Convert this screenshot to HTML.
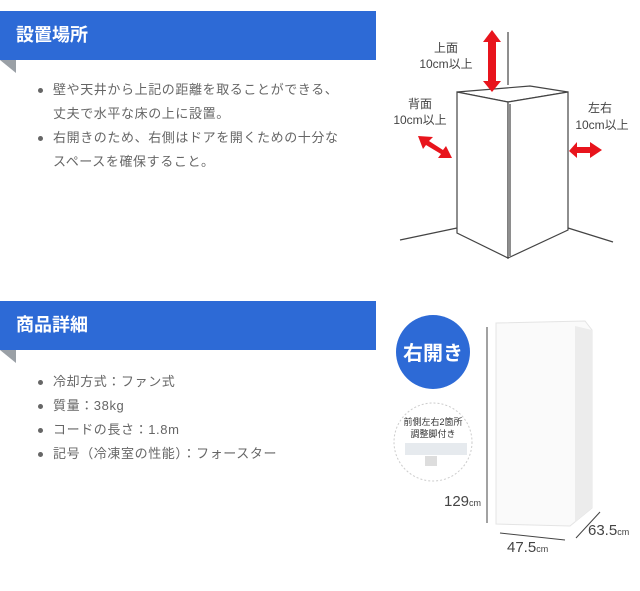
<!DOCTYPE html>
<html><head><meta charset="utf-8"><style>
body{margin:0;width:640px;height:591px;background:#fff;position:relative;overflow:hidden;font-family:"Liberation Sans","Noto Sans CJK JP",sans-serif}
.h{position:absolute;left:0;width:376px;height:49px;background:#2d6ad6;color:#fff;font-weight:bold;font-size:18px;line-height:49px;padding-left:16px;box-sizing:border-box}
.t{position:absolute;left:0;width:0;height:0;border-top:13px solid #9aa0a6;border-left:16px solid transparent}
.l{position:absolute;left:53px;font-size:13px;color:#666;line-height:24px;margin:0;padding:0;list-style:none;letter-spacing:0.6px}
.l li{position:relative;white-space:nowrap}
.l li.b:before{content:"";position:absolute;left:-15px;top:10px;width:5px;height:5px;border-radius:50%;background:#666}
svg{position:absolute}
</style></head><body>
<div class="h" style="top:11px">設置場所</div>
<div class="t" style="top:60px"></div>
<ul class="l" style="top:78px">
<li class="b">壁や天井から上記の距離を取ることができる、</li>
<li>丈夫で水平な床の上に設置。</li>
<li class="b">右開きのため、右側はドアを開くための十分な</li>
<li>スペースを確保すること。</li>
</ul>
<div class="h" style="top:301px">商品詳細</div>
<div class="t" style="top:350px"></div>
<ul class="l" style="top:370px">
<li class="b">冷却方式：ファン式</li>
<li class="b">質量：38kg</li>
<li class="b">コードの長さ：1.8m</li>
<li class="b">記号（冷凍室の性能）：フォースター</li>
</ul>

<svg width="260" height="270" style="left:380px;top:0" font-family="Liberation Sans,Noto Sans CJK JP,sans-serif">
<g stroke="#444" fill="none" stroke-width="1.2">
<line x1="128" y1="32" x2="128" y2="85"/>
<line x1="20" y1="240" x2="77" y2="228"/>
<line x1="188" y1="228" x2="233" y2="242"/>
<path d="M77 92 L150 86 L188 92 L128 102 Z" fill="#fff"/>
<path d="M77 92 L77 233 L128 258 L128 102 Z" fill="#fff"/>
<path d="M128 102 L188 92 L188 230 L128 258 Z" fill="#fff"/>
<line x1="130" y1="104" x2="130" y2="256"/>
</g>
<g fill="#e8141c">
<path d="M112 30 L121 42 L116 42 L116 81 L121 81 L112 92 L103 81 L108 81 L108 42 L103 42 Z"/>
<path d="M38 136 L53 137 L49 141 L63 150 L66 146 L72 158 L58 158 L61 154 L46 145 L43 149 Z"/>
<path d="M189 151 L197 142 L197 147 L210 147 L210 142 L222 150 L210 158 L210 153 L197 153 L197 158 Z"/>
</g>
<g fill="#444" font-size="12" text-anchor="middle">
<text x="66" y="52">上面</text><text x="66" y="68">10cm以上</text>
<text x="40" y="108">背面</text><text x="40" y="124">10cm以上</text>
<text x="220" y="112">左右</text><text x="222" y="129">10cm以上</text>
</g>
</svg>

<svg width="260" height="280" style="left:380px;top:290px" font-family="Liberation Sans,Noto Sans CJK JP,sans-serif">
<circle cx="53" cy="62" r="37" fill="#2d6ad6"/>
<text x="53" y="70" fill="#fff" font-size="20" font-weight="bold" text-anchor="middle">右開き</text>
<circle cx="53" cy="152" r="39" fill="#fff" stroke="#ccc" stroke-dasharray="2 2"/>
<text x="53" y="135" fill="#333" font-size="9" text-anchor="middle">前側左右2箇所</text>
<text x="53" y="147" fill="#333" font-size="9" text-anchor="middle">調整脚付き</text>
<rect x="25" y="153" width="62" height="12" fill="#e6eaee"/>
<rect x="45" y="166" width="12" height="10" fill="#ddd"/>
<path d="M116 33 L205 31 L212 40 L212 218 L190 236 L116 234 Z" fill="#fafafa" stroke="#e4e4e4"/>
<path d="M195 36 L212 40 L212 218 L195 232 Z" fill="#ececec"/>
<g stroke="#444" stroke-width="1">
<line x1="107" y1="37" x2="107" y2="233"/>
<line x1="120" y1="243" x2="185" y2="250"/>
<line x1="196" y1="248" x2="220" y2="222"/>
</g>
<g fill="#444" font-size="15">
<text x="64" y="216">129<tspan font-size="9">cm</tspan></text>
<text x="127" y="262">47.5<tspan font-size="9">cm</tspan></text>
<text x="208" y="245">63.5<tspan font-size="9">cm</tspan></text>
</g>
</svg>
</body></html>
